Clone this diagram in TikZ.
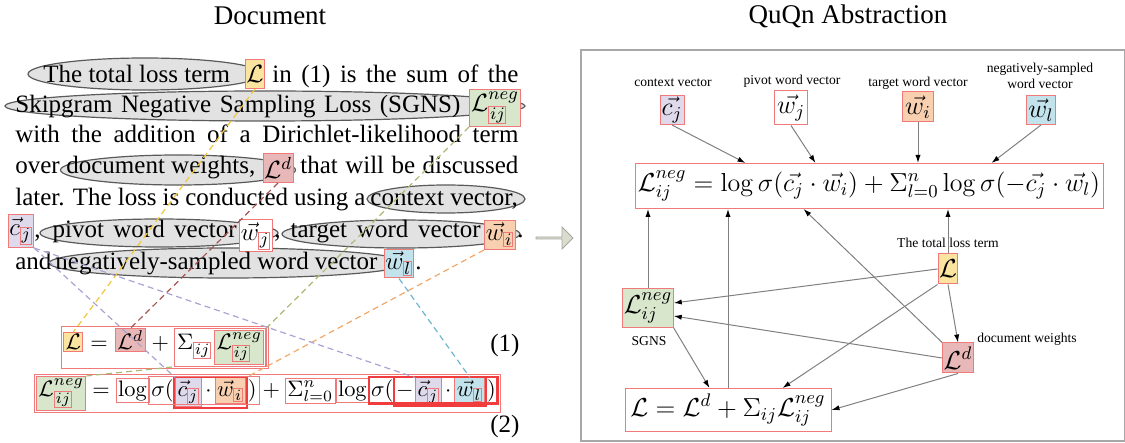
\RequirePackage{fix-cm}
\documentclass[tikz,border=0pt]{standalone}
\usepackage[no-math]{fontspec}
\setmainfont{Liberation Serif}
\usetikzlibrary{arrows.meta, positioning, fit, shapes.geometric, shapes.arrows}
\definecolor{boxred}{HTML}{F07A7A}
\definecolor{thickred}{HTML}{F03C3C}
\definecolor{fillyellow}{HTML}{FBE3A0}
\definecolor{fillgreen}{HTML}{D8E6CC}
\definecolor{fillred}{HTML}{E8B7B7}
\definecolor{fillpurple}{HTML}{DEDAEC}
\definecolor{fillorange}{HTML}{F8D0B0}
\definecolor{fillblue}{HTML}{C2E2EC}
\definecolor{ellgray}{HTML}{E2E2E2}
\definecolor{ellline}{HTML}{5A5A5A}
\definecolor{dashyellow}{HTML}{EFC541}
\definecolor{dashbrown}{HTML}{A65454}
\definecolor{dashgreen}{HTML}{A9BA72}
\definecolor{dashorange}{HTML}{F0A868}
\definecolor{dashpurple}{HTML}{A9A3D2}
\definecolor{dashteal}{HTML}{6DB6CF}
\definecolor{arrowfill}{HTML}{DADDCB}
\definecolor{panelline}{HTML}{A8A8A8}
\newcommand{\bodyfont}{\fontsize{12.5}{15}\selectfont}
\newcommand{\titlefont}{\fontsize{13.5}{16}\selectfont}
\newcommand{\labfont}{\fontsize{6.8}{8}\selectfont}
\newcommand{\eqfont}{\fontsize{13}{15}\selectfont}
\newcommand{\leqfont}{\fontsize{11.2}{13}\selectfont}
\newcommand{\jtext}[2]{\makebox[#1][s]{#2}}
\newcommand{\subbox}[1]{{\fboxsep=0.3pt\fboxrule=0.5pt\color{boxred}\fbox{\color{black}$\scriptstyle #1$}}}

\begin{document}
\begin{tikzpicture}[x=0.5pt, y=-0.5pt,
  % highlighted spans of running text
  span/.style={ellipse, draw=ellline, fill=ellgray, line width=0.6pt, inner sep=0pt},
  % running text
  txt/.style={inner sep=0pt, anchor=base west, font=\bodyfont},
  % coloured mention boxes
  mbox/.style={draw=boxred, fill=#1, line width=0.5pt, inner sep=0.5pt, font=\bodyfont},
  ebox/.style={draw=boxred, fill=#1, line width=0.5pt, inner sep=1.5pt, font=\eqfont},
  % boxes and symbols of the numbered formulas
  qbox/.style={draw=boxred, fill=#1, line width=0.5pt, inner sep=1pt, font=\leqfont},
  qtxt/.style={inner sep=0.3pt, font=\leqfont},
  grp/.style={draw=boxred, line width=0.6pt, inner sep=0.8pt},
  grpthick/.style={draw=thickred, line width=1.1pt, inner sep=0.4pt},
  % dashed links text -> formula
  link/.style={draw=#1, dash pattern=on 3pt off 2pt, line width=0.6pt},
  % abstraction graph
  lab/.style={font=\labfont, inner sep=1pt},
  arr/.style={-{Latex[length=4pt, width=2.6pt, color=black]}, draw=gray, line width=0.5pt},
]
\useasboundingbox (0,0) rectangle (1125,443);

% ── TITLES ─────────────────────────────────────────
\node[font=\titlefont] (tdoc) at (270,16) {Document};
\node[font=\titlefont] (tquqn) at (848,16) {QuQn Abstraction};

% ── DOCUMENT : highlighted spans ───────────────────
\node[span, minimum width=117pt, minimum height=16pt] (s1) at (145,74) {};
\node[span, minimum width=260pt, minimum height=15pt] (s2) at (265,106) {};
\node[span, minimum width=117.5pt, minimum height=15pt] (s4) at (178,170) {};
\node[span, minimum width=79pt, minimum height=14pt] (s5) at (446,199) {};
\node[span, minimum width=119pt, minimum height=14pt] (s6a) at (159,233) {};
\node[span, minimum width=119pt, minimum height=14pt] (s6b) at (401,234) {};
\node[span, minimum width=179pt, minimum height=15pt] (s7) at (228,263) {};

% ── DOCUMENT : text and mentions ───────────────────
\node[txt] (l1a) at (43,83) {The total loss term};
\node[mbox=fillyellow, minimum width=9pt, minimum height=14.5pt] (t1L) at (255,74) {$\mathcal{L}$};
\node[txt] (l1b) at (272,83) {\jtext{123pt}{in (1) is the sum of the}};

\node[txt] (l2a) at (15,113) {\jtext{222.5pt}{Skipgram Negative Sampling Loss (SGNS)}};
\node[mbox=fillgreen, minimum width=25.5pt, minimum height=18.5pt] (t2Ln) at (495,108) {$\mathcal{L}^{neg}_{\subbox{ij}}$};

\node[txt] (l3) at (15,143) {\jtext{251.5pt}{with the addition of a Dirichlet-likelihood term}};

\node[txt] (l4a) at (15,174) {over};
\node[txt] (l4b) at (66,174) {document weights,};
\node[mbox=fillred, minimum width=15pt, minimum height=14.5pt] (t4Ld) at (278,168) {$\mathcal{L}^{d}$};
\node[txt] (l4c) at (300,174) {\jtext{109pt}{that will be discussed}};

\node[txt] (l5a) at (15,206) {\jtext{175pt}{later. The loss is conducted using a}};
\node[txt] (l5b) at (370,206) {context vector,};

\node[mbox=fillpurple, minimum width=11.5pt, minimum height=16.5pt] (t6cj) at (21,231) {$\vec{c}_{\subbox{j}}$};
\node[txt] (l6a) at (34,238) {,\hspace{6pt}\jtext{92pt}{pivot word vector}};
\node[mbox=white, minimum width=15.5pt, minimum height=16pt] (t6wj) at (256,236) {$\vec{w}_{\subbox{j}}$};
\node[txt] (l6b) at (274,238) {,\hspace{5pt}\jtext{95pt}{target word vector}};
\node[mbox=fillorange, minimum width=15.5pt, minimum height=14.5pt] (t6wi) at (500,235) {$\vec{w}_{\subbox{i}}$};
\node[txt] (l6c) at (517,238) {.};

\node[txt] (l7a) at (15,270) {and};
\node[txt] (l7b) at (55,270) {\jtext{161pt}{negatively-sampled word vector}};
\node[mbox=fillblue, minimum width=14pt, minimum height=14pt] (t7wl) at (399,264) {$\vec{w}_{\subbox{l}}$};
\node[txt] (l7c) at (415,270) {.};

% ── EQUATION (1) ───────────────────────────────────
\node[qbox=fillyellow, anchor=base west] (q1L) at (63,350) {$\mathcal{L}$};
\node[qtxt, base right=3pt of q1L] (q1eq) {$=$};
\node[qbox=fillred, base right=3pt of q1eq] (q1Ld) {$\mathcal{L}^{d}$};
\node[qtxt, base right=2.5pt of q1Ld] (q1pl) {$+$};
\node[qtxt, base right=3pt of q1pl] (q1sig) {$\Sigma_{\subbox{ij}}$};
\node[qbox=fillgreen, base right=0.5pt of q1sig] (q1Ln) {$\mathcal{L}^{neg}_{\subbox{ij}}$};
\node[grp, fit=(q1sig)(q1Ln)] (q1grp) {};
\node[grp, fit=(q1L)(q1grp)] (q1box) {};
\node[txt] (n1) at (490,351) {(1)};

% ── EQUATION (2) ───────────────────────────────────
\node[qbox=fillgreen, anchor=base west] (q2Ln) at (36,396) {$\mathcal{L}^{neg}_{\subbox{ij}}$};
\node[qtxt, base right=2.5pt of q2Ln] (q2eq) {$=$};
\node[qbox=white, base right=2.5pt of q2eq] (q2log1) {$\log$};
\node[qtxt, base right=0.3pt of q2log1] (q2sig1) {$\sigma($};
\node[qbox=fillpurple, base right=0.3pt of q2sig1] (q2cj1) {$\vec{c}_{\subbox{j}}$};
\node[qtxt, base right=1pt of q2cj1] (q2dot1) {$\cdot$};
\node[qbox=fillorange, base right=1pt of q2dot1] (q2wi) {$\vec{w}_{\subbox{i}}$};
\node[qtxt, base right=0.3pt of q2wi] (q2cl1) {$)$};
\node[qtxt, base right=2pt of q2cl1] (q2pl) {$+$};
\node[qbox=white, base right=2pt of q2pl] (q2sum) {$\Sigma_{l=0}^{n}$};
\node[qbox=white, base right=0pt of q2sum] (q2log2) {$\log$};
\node[qtxt, base right=0.3pt of q2log2] (q2sig2) {$\sigma($};
\node[qtxt, base right=0.3pt of q2sig2] (q2neg) {$-$};
\node[qbox=fillpurple, base right=0.3pt of q2neg] (q2cj2) {$\vec{c}_{\subbox{j}}$};
\node[qtxt, base right=1pt of q2cj2] (q2dot2) {$\cdot$};
\node[qbox=fillblue, base right=1pt of q2dot2] (q2wl) {$\vec{w}_{\subbox{l}}$};
\node[qtxt, base right=0.3pt of q2wl] (q2cl2) {$)$};
\node[grpthick, fit=(q2cj1)(q2wi)] (q2g1) {};
\node[grp, fit=(q2sig1)(q2cl1)] (q2g2) {};
\node[grpthick, fit=(q2neg)(q2wl)] (q2g3) {};
\node[grpthick, fit=(q2sig2)(q2cl2)] (q2g4) {};
\node[grp, fit=(q2Ln)(q2g4)] (q2box) {};
\node[txt] (n2) at (490,432) {(2)};

% ── LINKS text -> formula ──────────────────────────
\draw[link=dashyellow] (t1L.south) -- (q1L.north);
\draw[link=dashbrown] (t4Ld.south) -- (q1Ld.north);
\draw[link=dashgreen] (t2Ln.south west) -- (q1Ln.north east);
\draw[link=dashgreen] (q2Ln.north east) -- (q1grp.south west);
\draw[link=dashorange] (t6wi.south west) -- (q2wi.north east);
\draw[link=dashpurple] (t6cj.south east) -- (q2cj1.north west);
\draw[link=dashpurple] (t6cj.south east) -- (q2cj2.north west);
\draw[link=dashteal] (t7wl.south) -- (q2wl.north);

% ── FLOW ARROW ─────────────────────────────────────
\node[single arrow, draw=gray!70, fill=arrowfill, minimum height=18.5pt, minimum width=11pt,
      single arrow head extend=2pt, inner sep=0pt] (flow) at (554,238) {};

% ── QuQn ABSTRACTION ───────────────────────────────
\draw[panelline, line width=0.8pt] (581,50) rectangle (1124.5,441);

\node[lab] (lcj) at (673,83) {context vector};
\node[lab] (lwj) at (792,81) {pivot word vector};
\node[lab] (lwi) at (918,83) {target word vector};
\node[lab, align=center] (lwl) at (1040,76) {negatively-sampled\\word vector};
\node[ebox=fillpurple, minimum width=12pt, minimum height=14.5pt, inner sep=0.5pt] (rcj) at (672,110) {$\vec{c_j}$};
\node[ebox=white, minimum width=16.5pt, minimum height=17pt, inner sep=0.5pt] (rwj) at (791,108) {$\vec{w_j}$};
\node[ebox=fillorange, minimum width=15.5pt, minimum height=15pt, inner sep=0.5pt] (rwi) at (918,107) {$\vec{w_i}$};
\node[ebox=fillblue, minimum width=14.5pt, minimum height=14.5pt, inner sep=0.5pt] (rwl) at (1041,110) {$\vec{w_l}$};

\node[ebox=white, minimum width=234pt, minimum height=22.5pt, inner sep=0.5pt] (rneg) at (869,186)
  {$\mathcal{L}^{neg}_{ij} = \log\sigma(\vec{c_j}\cdot\vec{w_i}) + \Sigma_{l=0}^{n}\log\sigma(-\vec{c_j}\cdot\vec{w_l})$};

\node[ebox=fillyellow, minimum width=8pt, minimum height=15pt, inner sep=0.5pt] (rL) at (948,269) {$\mathcal{L}$};
\node[lab] (lL) at (948,243) {The total loss term};
\node[ebox=fillgreen, minimum width=25pt, minimum height=19.5pt, inner sep=0.5pt] (rLn) at (648,308) {$\mathcal{L}^{neg}_{ij}$};
\node[lab] (lLn) at (649,341) {SGNS};
\node[ebox=fillred, minimum width=15pt, minimum height=15pt, inner sep=0.5pt] (rLd) at (958,358) {$\mathcal{L}^{d}$};
\node[lab] (lLd) at (1027,339) {document weights};
\node[ebox=white, minimum width=103pt, minimum height=21.5pt, inner sep=0.5pt] (rsum) at (728,410)
  {$\mathcal{L} = \mathcal{L}^{d} + \Sigma_{ij}\mathcal{L}^{neg}_{ij}$};

\draw[arr] (rcj.south) -- ([xshift=55.5pt]rneg.north west);
\draw[arr] (rwj.south) -- ([xshift=90.5pt]rneg.north west);
\draw[arr] (rwi.south) -- (rwi.south |- rneg.north);
\draw[arr] (rwl.south) -- ([xshift=178.5pt]rneg.north west);
\draw[arr] (rLn.north) -- (rLn.north |- rneg.south);
\draw[arr] (rsum.north) -- (rsum.north |- rneg.south);
\draw[arr] (rLd.north west) -- ([xshift=84.5pt]rneg.south west);
\draw[arr] (rL.north) -- (rL.north |- rneg.south);
\draw[arr] (rL.west) -- ([yshift=2.5pt]rLn.east);
\draw[arr] (rL.south west) -- ([xshift=79pt]rsum.north west);
\draw[arr] (rL.south) -- (rLd.north);
\draw[arr] (rLd.west) -- ([yshift=-4pt]rLn.east);
\draw[arr] (rLn.south east) -- ([xshift=42.5pt]rsum.north west);
\draw[arr] (rLd.south) -- (rsum.east);

\end{tikzpicture}
\end{document}
